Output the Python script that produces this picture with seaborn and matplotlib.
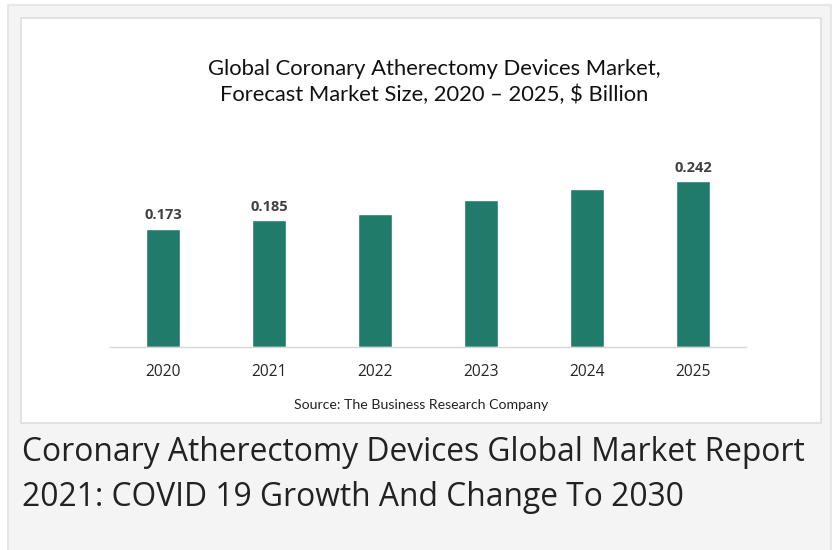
import matplotlib
matplotlib.use("Agg")
import matplotlib.pyplot as plt
import pandas as pd
import seaborn as sns
from matplotlib.patches import Rectangle

W, H = 838, 550

years = ["2020", "2021", "2022", "2023", "2024", "2025"]
market_size = [0.173, 0.185, 0.195, 0.215, 0.231, 0.242]
labelled_years = ["2020", "2021", "2025"]

chart_title = "Global Coronary Atherectomy Devices Market,\nForecast Market Size, 2020 \u2013 2025, $ Billion"
source_text = "Source: The Business Research Company"
heading = "Coronary Atherectomy Devices Global Market Report\n2021: COVID 19 Growth And Change To 2030"

df = pd.DataFrame({"Year": years, "Size": market_size})

sns.set_theme(style="white")
plt.rcParams["font.family"] = ["Open Sans", "DejaVu Sans"]

fig = plt.figure(figsize=(W / 100, H / 100), dpi=100)
fig.patch.set_facecolor("white")


def px(x0, y0, x1, y1):
    # pixel box (top-left origin) -> figure fraction rect
    return [x0 / W, 1 - y1 / H, (x1 - x0) / W, (y1 - y0) / H]


# Page background and the white chart card
bg = px(8, 5, 831, 560)
fig.patches.append(Rectangle((bg[0], bg[1]), bg[2], bg[3], transform=fig.transFigure,
                             facecolor="#f4f4f4", edgecolor="#e3e3e3", lw=1.2, zorder=-2))
card = px(21, 18, 821, 423)
fig.patches.append(Rectangle((card[0], card[1]), card[2], card[3], transform=fig.transFigure,
                             facecolor="white", edgecolor="#dedede", lw=1.2, zorder=-1))

# Bars
ymax = 0.30
ax = fig.add_axes(px(110, 347 - ymax / 0.001462, 746, 347))
ax.set_facecolor("none")
sns.barplot(data=df, x="Year", y="Size", color="#207b6b", width=0.32, saturation=1, ax=ax)
ax.set_xlim(-0.5, len(years) - 0.5)
ax.set_ylim(0, ymax)

for i, (yr, v) in enumerate(zip(years, market_size)):
    if yr in labelled_years:
        ax.annotate(f"{v:.3f}", (i, v), xytext=(0, 5), textcoords="offset points",
                    ha="center", va="bottom", fontsize=10.5, fontweight="bold", color="#404040")

sns.despine(ax=ax, left=True)
ax.spines["bottom"].set_color("#d6d6d6")
ax.spines["bottom"].set_linewidth(1.0)
ax.set_yticks([])
ax.set_xlabel("")
ax.set_ylabel("")
ax.tick_params(axis="x", length=0, pad=12, labelsize=11.2, labelcolor="#262626")

fig.text(434 / W, 1 - 82 / H, chart_title, ha="center", va="center", fontsize=15.8,
         family=["Lato", "DejaVu Sans"], color="#111111", linespacing=1.3)
fig.text(421 / W, 1 - 405 / H, source_text, ha="center", va="center", fontsize=10.2,
         family=["Lato", "DejaVu Sans"], color="#222222")
fig.text(22 / W, 1 - 475 / H, heading, ha="left", va="center", fontsize=22.9,
         color="#222222", linespacing=1.46)

fig.savefig("out.png", dpi=100, facecolor=fig.get_facecolor())
